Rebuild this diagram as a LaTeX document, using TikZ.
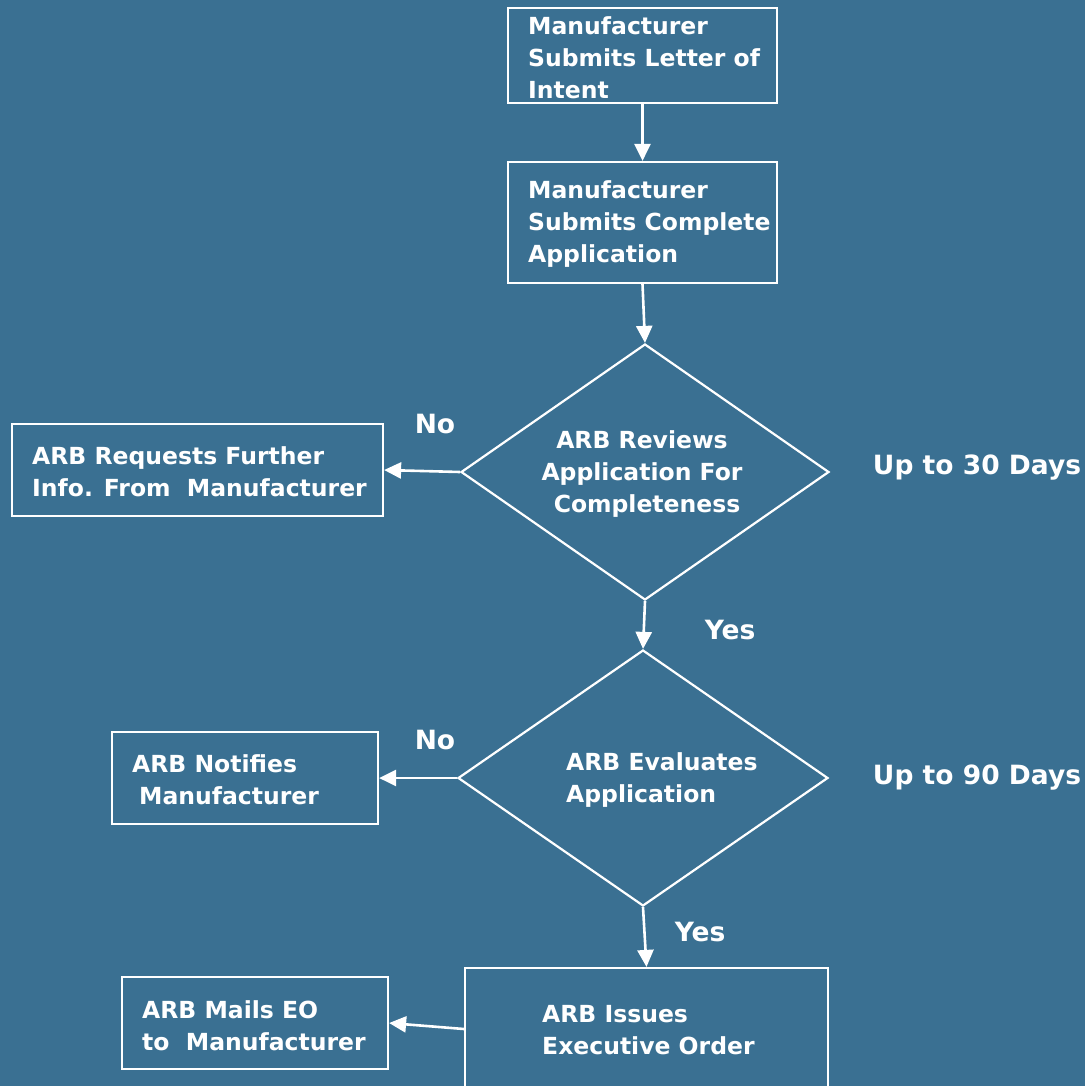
\documentclass[tikz,border=0pt]{standalone}
\usepackage{fontspec}
\setmainfont{DejaVu Sans}
\usetikzlibrary{arrows.meta,shapes.geometric}
\definecolor{bg}{RGB}{58,112,146}
\begin{document}
\begin{tikzpicture}[x=1pt,y=-1pt,
 box/.style={draw=white, line width=2.2pt, inner sep=0pt, rectangle},
 dia/.style={draw=white, line width=2.2pt, inner sep=0pt, diamond},
 txt/.style={text=white, font=\bfseries\fontsize{23.5}{32}\selectfont, align=left, inner sep=0pt, anchor=west},
 lbl/.style={text=white, font=\bfseries\fontsize{26.5}{30}\selectfont, inner sep=0pt},
 arr/.style={draw=white, line width=2.6pt, -{Triangle[width=16pt,length=17pt]}}]
\fill[bg] (0,0) rectangle (1085,1086);
\useasboundingbox (0,0) rectangle (1085,1086);
\node[box, minimum width=269pt, minimum height=95pt] (b1) at (642.5,55.5) {};
\node[box, minimum width=269pt, minimum height=121pt] (b2) at (642.5,222.5) {};
\node[dia, minimum width=368pt, minimum height=256pt] (d1) at (645,472) {};
\node[dia, minimum width=370pt, minimum height=256pt] (d2) at (643,778) {};
\node[box, minimum width=371pt, minimum height=92pt] (req) at (197.5,470) {};
\node[box, minimum width=266pt, minimum height=92pt] (notif) at (245,778) {};
\node[box, minimum width=363pt, minimum height=122pt] (iss) at (646.5,1029) {};
\node[box, minimum width=266pt, minimum height=92pt] (mails) at (255,1023) {};

\node[txt] (t1) at (528,58) {Manufacturer\\Submits Letter of\\Intent};
\node[txt] (t2) at (528,224) {Manufacturer\\Submits Complete\\Application};
\node[txt, align=center, anchor=center] (t3) at (642,474) {ARB Reviews\\Application For\\\hspace{10pt}Completeness};
\node[txt] (t4) at (32,472) {ARB Requests Further\\Info. From\ \ Manufacturer};
\node[txt] (t5) at (566,780) {ARB Evaluates\\Application};
\node[txt] (t6) at (132,780) {ARB Notifies\\\hspace{7pt}Manufacturer};
\node[txt] (t7) at (542,1030) {ARB Issues\\Executive Order};
\node[txt] (t8) at (142,1025.5) {ARB Mails EO\\to\ \ Manufacturer};

\node[lbl] (no1) at (435,424) {No};
\node[lbl] (no2) at (435,740) {No};
\node[lbl] (yes1) at (730,630) {Yes};
\node[lbl] (yes2) at (700,932) {Yes};
\node[lbl] (up30) at (977,468) {Up to 30 Days};
\node[lbl] (up90) at (977,778) {Up to 90 Days};

\draw[arr] (b1) -- (b2);
\draw[arr] (b2.south) -- (d1.north);
\draw[arr] (d1.west) -- (req.east);
\draw[arr] (d1.south) -- (d2.north);
\draw[arr] (d2.west) -- (notif.east);
\draw[arr] (d2.south) -- (iss.north);
\draw[arr] (iss.west) -- (mails.east);
\end{tikzpicture}
\end{document}
